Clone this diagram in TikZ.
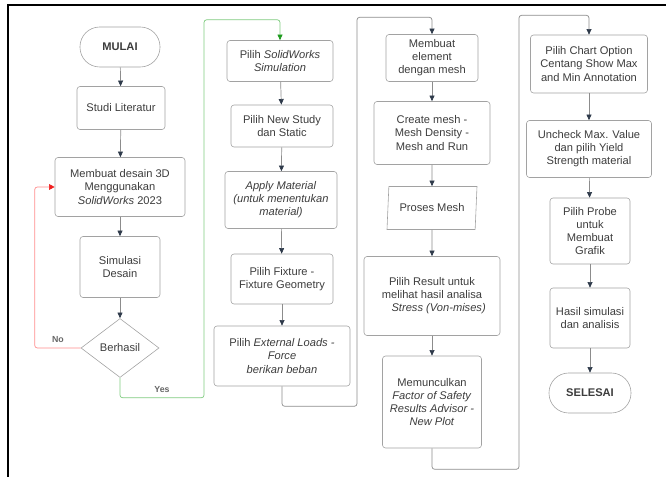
\documentclass[tikz,border=0pt]{standalone}
\usepackage{fontspec}
\setmainfont{Liberation Sans}
\usetikzlibrary{shapes.geometric,arrows.meta}
\definecolor{boxline}{HTML}{A2A2A2}
\definecolor{txt}{HTML}{3C3C3C}
\definecolor{conn}{HTML}{8C8C8C}
\definecolor{tipdark}{HTML}{2E3A4A}
\definecolor{yesgreen}{HTML}{7FCB7F}
\definecolor{yestip}{HTML}{1E9A1E}
\definecolor{nored}{HTML}{FF8C8C}
\definecolor{notip}{HTML}{F01E1E}
\begin{document}
\begin{tikzpicture}[x=0.3mm,y=-0.3mm,
  font=\fontsize{9.5}{11.2}\selectfont,
  box/.style={draw=boxline, line width=0.5pt, rounded corners=0.9mm, align=center, text=txt, inner sep=1pt},
  term/.style={box, rounded corners=5.9mm, font=\fontsize{9.5}{11.2}\selectfont\bfseries},
  flow/.style={draw=conn, line width=0.6pt, rounded corners=0.8mm, -{Triangle[length=1.7mm,width=1.5mm,color=tipdark]}},
  yesflow/.style={flow, draw=yesgreen, -{Triangle[length=1.7mm,width=1.5mm,color=yestip]}},
  noflow/.style={flow, draw=nored, -{Triangle[length=1.7mm,width=1.7mm,color=notip]}},
  lbl/.style={text=black!60, font=\fontsize{7.5}{9}\selectfont\bfseries, inner sep=1pt}]
\useasboundingbox (0,0) rectangle (666,477);
\draw[line width=1.3pt] (8,477) -- (8,5) -- (666,5);

% kolom 1
\node[term, minimum width=24mm, minimum height=12mm] (mulai) at (120,47) {MULAI};
\node[box, minimum width=26.4mm, minimum height=12.9mm] (studi) at (121,108) {Studi Literatur};
\node[box, minimum width=39mm, minimum height=17.7mm] (desain) at (120,187) {Membuat desain 3D\\Menggunakan\\\textit{SolidWorks} 2023};
\node[box, minimum width=24mm, minimum height=18.3mm] (simulasi) at (120,267) {Simulasi\\Desain};
\node[diamond, draw=boxline, line width=0.5pt, text=txt, inner sep=0pt, minimum width=23.4mm, minimum height=17.7mm] (berhasil) at (120,348) {Berhasil};

% kolom 2
\node[box, minimum width=31.8mm, minimum height=12.3mm] (pilihsw) at (280,61) {Pilih \textit{SolidWorks}\\\textit{Simulation}};
\node[box, minimum width=30.6mm, minimum height=12.6mm] (study) at (282,126) {Pilih New Study\\dan Static};
\node[box, minimum width=33.6mm, minimum height=17.1mm] (material) at (281,200) {\textit{Apply Material}\\\textit{(untuk menentukan}\\\textit{material)}};
\node[box, minimum width=30.6mm, minimum height=15mm] (fixture) at (282,279) {Pilih Fixture -\\Fixture Geometry};
\node[box, minimum width=40.8mm, minimum height=18mm] (extload) at (282,356) {Pilih \textit{External Loads -}\\\textit{Force}\\\textit{berikan beban}};

% kolom 3
\node[box, minimum width=27.6mm, minimum height=14.1mm] (element) at (432,58) {Membuat\\element\\dengan mesh};
\node[box, minimum width=34.8mm, minimum height=18.9mm] (create) at (432,133) {Create mesh -\\Mesh Density -\\Mesh and Run};
\node[trapezium, trapezium left angle=80, trapezium right angle=100, trapezium stretches body, draw=boxline, line width=0.5pt, text=txt, inner sep=1pt, minimum width=27mm, minimum height=12.9mm] (proses) at (432,208) {Proses Mesh};
\node[box, minimum width=40.8mm, minimum height=23.7mm] (result) at (432,296) {Pilih Result untuk\\melihat hasil analisa\\\hspace*{4mm}\textit{Stress (Von-mises)}};
\node[box, minimum width=29.7mm, minimum height=27.6mm] (munculkan) at (432,402) {Memunculkan\\\textit{Factor of Safety}\\\textit{Results Advisor -}\\\textit{New Plot}};

% kolom 4
\node[box, minimum width=35.1mm, minimum height=17.4mm] (chart) at (589,64) {Pilih Chart Option\\Centang Show Max\\and Min Annotation};
\node[box, minimum width=37.5mm, minimum height=17.1mm] (uncheck) at (589,149) {Uncheck Max. Value\\dan pilih Yield\\Strength material};
\node[box, minimum width=24mm, minimum height=19.8mm] (probe) at (590,231) {Pilih Probe\\untuk\\Membuat\\Grafik};
\node[box, minimum width=24mm, minimum height=18mm] (hasil) at (590,318) {Hasil simulasi\\dan analisis};
\node[term, minimum width=24.6mm, minimum height=12mm] (selesai) at (590,393) {SELESAI};

% panah
\draw[flow] (mulai) -- (studi);
\draw[flow] (studi) -- (desain);
\draw[flow] (desain) -- (simulasi);
\draw[flow] (simulasi) -- (berhasil);
\draw[noflow] (berhasil.west) -- ++(-46,0) |- (desain.west);
\draw[yesflow] (berhasil.south) -- ++(0,20) -| ++(84,-378) -| (pilihsw.north);
\node[lbl] (lblno) at (58,340) {No};
\node[lbl] (lblyes) at (162,390) {Yes};

\draw[flow] (pilihsw) -- (study);
\draw[flow] (study) -- (material);
\draw[flow] (material) -- (fixture);
\draw[flow] (fixture) -- (extload);
\draw[flow] (extload.south) -- ++(0,20) -| ++(75,-389) -| (element.north);

\draw[flow] (element) -- (create);
\draw[flow] (create) -- (proses);
\draw[flow] (proses) -- (result);
\draw[flow] (result) -- (munculkan);
\draw[flow] (munculkan.south) -- ++(0,21) -| ++(87,-454) -| (chart.north);

\draw[flow] (chart) -- (uncheck);
\draw[flow] (uncheck) -- (probe);
\draw[flow] (probe) -- (hasil);
\draw[flow] (hasil) -- (selesai);
\end{tikzpicture}
\end{document}
